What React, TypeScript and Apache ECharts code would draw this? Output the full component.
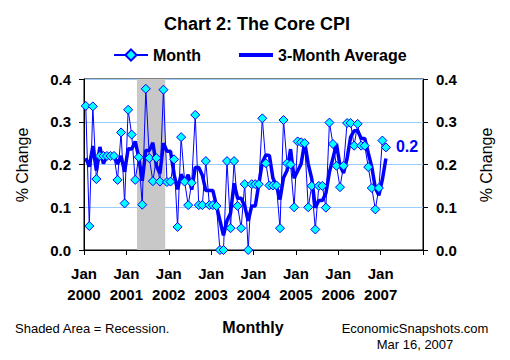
import React, { useEffect, useRef } from "react";
import * as echarts from "echarts";

const startYear = 2000;
const yearLabels = ["2000", "2001", "2002", "2003", "2004", "2005", "2006", "2007"];
const monthsShown = 96;

// Monthly % change in core CPI, Jan 2000 - Feb 2007
const monthly = [
  0.337, 0.056, 0.336, 0.166, 0.22, 0.22, 0.22, 0.22, 0.22, 0.164, 0.275, 0.109,
  0.328, 0.27, 0.164, 0.217, 0.106, 0.377, 0.215, 0.161, 0.215, 0.16, 0.375, 0.159,
  0.16, 0.212, 0.054, 0.264, 0.16, 0.105, 0.157, 0.316, 0.105, 0.105, 0.208, 0.105,
  0.105, 0.103, 0.0, 0.0, 0.208, 0.051, 0.208, 0.103, 0.051, 0.154, 0.0, 0.154,
  0.154, 0.154, 0.308, 0.203, 0.151, 0.151, 0.151, 0.051, 0.304, 0.203, 0.2, 0.1,
  0.254, 0.252, 0.25, 0.1, 0.15, 0.048, 0.15, 0.15, 0.099, 0.298, 0.248, 0.197,
  0.147, 0.197, 0.297, 0.297, 0.244, 0.295, 0.244, 0.244, 0.194, 0.145, 0.095, 0.145,
  0.256, 0.24,
];

// 3-month average
const avg3 = [
  0.215, 0.195, 0.243, 0.186, 0.241, 0.202, 0.22, 0.22, 0.22, 0.201, 0.22, 0.183,
  0.237, 0.236, 0.254, 0.217, 0.162, 0.233, 0.233, 0.251, 0.197, 0.179, 0.25, 0.231,
  0.231, 0.177, 0.142, 0.177, 0.159, 0.176, 0.141, 0.193, 0.193, 0.175, 0.139, 0.139,
  0.139, 0.104, 0.069, 0.034, 0.069, 0.086, 0.156, 0.121, 0.121, 0.103, 0.068, 0.103,
  0.103, 0.154, 0.205, 0.222, 0.221, 0.168, 0.151, 0.118, 0.169, 0.186, 0.236, 0.168,
  0.185, 0.202, 0.252, 0.201, 0.167, 0.099, 0.116, 0.116, 0.133, 0.182, 0.215, 0.248,
  0.197, 0.18, 0.214, 0.264, 0.279, 0.279, 0.261, 0.261, 0.227, 0.194, 0.145, 0.128,
  0.165, 0.214,
];

const recessionFrom = "2001-04";
const recessionTo = "2001-11";
const lastLabel = "0.2";

const monthIndex = (s: string) => {
  const [y, m] = s.split("-").map(Number);
  return (y - startYear) * 12 + (m - 1);
};

const FONT = "'Liberation Sans', Arial, sans-serif";

export default function App() {
  const ref = useRef<HTMLDivElement>(null);

  useEffect(() => {
    if (!ref.current) return;
    const chart = echarts.init(ref.current, null, { renderer: "svg" });

    const monthData = monthly.map((v, i) => [i + 0.5, v]);
    const avgData = avg3.map((v, i) => [i + 0.5, v]);

    const axisLabelStyle = {
      color: "#000",
      fontFamily: FONT,
      fontWeight: "bold" as const,
      fontSize: 15,
    };

    chart.setOption({
      animation: false,
      textStyle: { fontFamily: FONT },
      grid: {
        left: 84,
        right: 87,
        top: 79,
        bottom: 110,
        show: true,
        borderColor: "#000",
        borderWidth: 1,
        backgroundColor: "transparent",
      },
      legend: {
        top: 42,
        left: 108,
        itemWidth: 34,
        itemHeight: 14,
        itemGap: 38,
        data: [
          { name: "Month" },
          { name: "3-Month Average", icon: "path://M0,0 L34,0 L34,4 L0,4 Z" },
        ],
        textStyle: {
          color: "#000",
          fontFamily: FONT,
          fontWeight: "bold",
          fontSize: 16,
        },
      },
      xAxis: {
        type: "value",
        min: 0,
        max: monthsShown,
        interval: 12,
        axisLine: { show: true, lineStyle: { color: "#000", width: 1 } },
        axisTick: { show: true, inside: false, length: 5, lineStyle: { color: "#000" } },
        splitLine: { show: false },
        axisLabel: {
          ...axisLabelStyle,
          margin: 13,
          lineHeight: 21,
          showMaxLabel: true,
          formatter: (v: number) => {
            const k = Math.round(v / 12);
            return k < yearLabels.length ? `Jan\n${yearLabels[k]}` : "";
          },
        },
      },
      yAxis: [
        {
          type: "value",
          min: 0,
          max: 0.4,
          interval: 0.1,
          position: "left",
          axisLine: { show: true, lineStyle: { color: "#000", width: 1 } },
          axisTick: { show: true, inside: false, length: 5, lineStyle: { color: "#000" } },
          splitLine: { show: true, lineStyle: { color: "#99CCFF", width: 1 } },
          axisLabel: { ...axisLabelStyle, margin: 13, formatter: (v: number) => v.toFixed(1) },
        },
        {
          type: "value",
          min: 0,
          max: 0.4,
          interval: 0.1,
          position: "right",
          axisLine: { show: true, lineStyle: { color: "#000", width: 1 } },
          axisTick: { show: true, inside: false, length: 5, lineStyle: { color: "#000" } },
          splitLine: { show: false },
          axisLabel: { ...axisLabelStyle, margin: 13, formatter: (v: number) => v.toFixed(1) },
        },
      ],
      series: [
        {
          name: "3-Month Average",
          type: "line",
          data: avgData,
          symbol: "none",
          showSymbol: false,
          z: 2,
          lineStyle: { color: "#0000FF", width: 3.5 },
          itemStyle: { color: "#0000FF" },
          endLabel: {
            show: true,
            formatter: lastLabel,
            distance: 10,
            offset: [0, -12],
            color: "#0000FF",
            fontFamily: FONT,
            fontWeight: "bold",
            fontSize: 16,
          },
          markArea: {
            silent: true,
            itemStyle: { color: "#C8C8C8", opacity: 1 },
            data: [
              [
                { xAxis: monthIndex(recessionFrom) },
                { xAxis: monthIndex(recessionTo) + 1 },
              ],
            ],
          },
        },
        {
          name: "Month",
          type: "line",
          data: monthData,
          symbol: "diamond",
          symbolSize: 9,
          z: 3,
          lineStyle: { color: "#0000FF", width: 1 },
          itemStyle: { color: "#00FFFF", borderColor: "#0000FF", borderWidth: 1 },
        },
      ],
      graphic: [
        {
          type: "text",
          x: 257,
          y: 24,
          style: {
            text: "Chart 2: The Core CPI",
            fontFamily: FONT,
            fontWeight: "bold",
            fontSize: 18,
            fill: "#000",
            textAlign: "center",
            textVerticalAlign: "middle",
          },
        },
        {
          type: "text",
          x: 22,
          y: 165,
          rotation: Math.PI / 2,
          style: {
            text: "% Change",
            fontFamily: FONT,
            fontSize: 16,
            fill: "#000",
            textAlign: "center",
            textVerticalAlign: "middle",
          },
        },
        {
          type: "text",
          x: 486,
          y: 165,
          rotation: Math.PI / 2,
          style: {
            text: "% Change",
            fontFamily: FONT,
            fontSize: 16,
            fill: "#000",
            textAlign: "center",
            textVerticalAlign: "middle",
          },
        },
        {
          type: "text",
          x: 15,
          y: 328,
          style: {
            text: "Shaded Area = Recession.",
            fontFamily: FONT,
            fontSize: 13,
            fill: "#000",
            textAlign: "left",
            textVerticalAlign: "middle",
          },
        },
        {
          type: "text",
          x: 253,
          y: 327,
          style: {
            text: "Monthly",
            fontFamily: FONT,
            fontWeight: "bold",
            fontSize: 16,
            fill: "#000",
            textAlign: "center",
            textVerticalAlign: "middle",
          },
        },
        {
          type: "text",
          x: 415,
          y: 328,
          style: {
            text: "EconomicSnapshots.com",
            fontFamily: FONT,
            fontSize: 13,
            fill: "#000",
            textAlign: "center",
            textVerticalAlign: "middle",
          },
        },
        {
          type: "text",
          x: 415,
          y: 344,
          style: {
            text: "Mar 16, 2007",
            fontFamily: FONT,
            fontSize: 13,
            fill: "#000",
            textAlign: "center",
            textVerticalAlign: "middle",
          },
        },
      ],
    });

    return () => chart.dispose();
  }, []);

  return (
    <div
      ref={ref}
      style={{ position: "fixed", left: 0, top: 0, width: 510, height: 360, background: "#fff" }}
    />
  );
}
